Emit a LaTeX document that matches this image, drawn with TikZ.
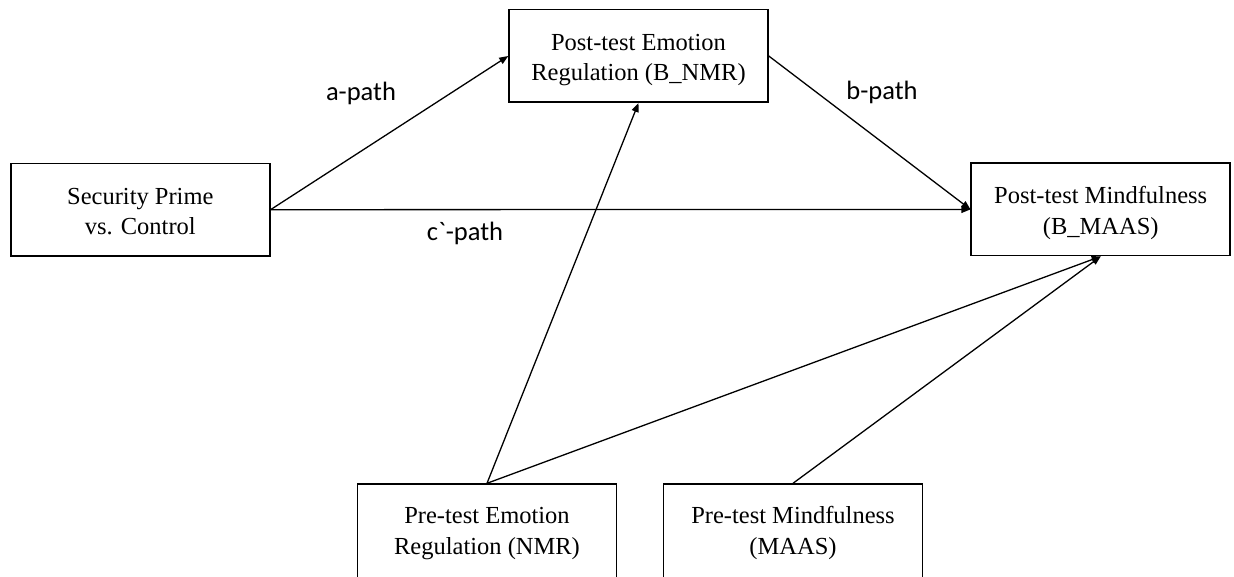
\documentclass[tikz,border=0pt]{standalone}
\usepackage{fontspec}
\setmainfont{Liberation Serif}
\newfontfamily\labelfont{Carlito}
\usetikzlibrary{arrows.meta}
\tikzset{
  varbox/.style={draw, line width=1.5pt, inner sep=0pt, minimum width=259pt, minimum height=92.5pt,
    align=center, font=\fontsize{24.5}{30.5}\selectfont, text height=50pt, text depth=0pt},
  prebox/.style={varbox, minimum height=100pt, anchor=north, text height=40pt, text depth=0pt},
  pathlabel/.style={font=\labelfont\fontsize{26.5}{30}\selectfont, inner sep=0pt},
  conn/.style={line width=1.3pt, -{Triangle[length=9pt,width=7pt]}}
}
\begin{document}
\begin{tikzpicture}[x=1pt,y=-1pt]
\useasboundingbox (0,0) rectangle (1234,577);
\clip (0,0) rectangle (1234,577);
\node[varbox] (L) at (140.3,209.7) {Security Prime\\vs. Control};
\node[varbox] (T) at (638.5,56) {Post-test Emotion\\Regulation (B\_NMR)};
\node[varbox] (R) at (1100.7,209.4) {Post-test Mindfulness\\(B\_MAAS)};
\node[prebox] (PE) at (487,483.3) {Pre-test Emotion\\Regulation (NMR)};
\node[prebox] (PM) at (793,483.3) {Pre-test Mindfulness\\(MAAS)};
\draw[conn] (L.east) -- (T.west);
\draw[conn] (L.east) -- (R.west);
\draw[conn] (T.east) -- (R.west);
\draw[conn] (PE.north) -- (T.south);
\draw[conn] (PE.north) -- (R.south);
\draw[conn] (PM.north) -- (R.south);
\node[pathlabel] (la) at (361,93) {a-path};
\node[pathlabel] (lc) at (465,233) {c\textasciigrave-path};
\node[pathlabel] (lb) at (882,92) {b-path};
\end{tikzpicture}
\end{document}
